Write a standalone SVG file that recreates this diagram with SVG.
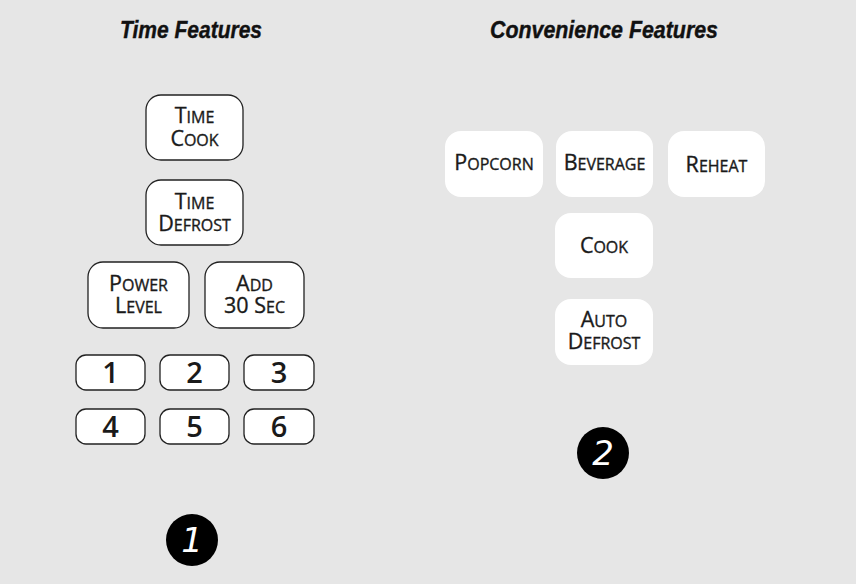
<svg xmlns="http://www.w3.org/2000/svg" width="856" height="584" viewBox="0 0 856 584">
<style>
.title{font-family:"Liberation Sans",Arial,sans-serif;font-weight:bold;font-style:italic;font-size:24px;fill:#111;stroke:#111;stroke-width:0.4}
.btn{fill:#fff;stroke:#222;stroke-width:1.3}
.cbtn{fill:#fff;stroke:none}
.lbl{font-family:"Open Sans","Noto Sans",sans-serif;font-size:16px;fill:#1a1a1a;stroke:#1a1a1a;stroke-width:0.35;text-anchor:middle}
.lbl .b{font-size:21.5px}
.num{font-family:"Open Sans","Noto Sans",sans-serif;font-size:29px;font-weight:600;fill:#1a1a1a;text-anchor:middle}
.badge{fill:#000}
.bnum{font-family:"DejaVu Sans",sans-serif;font-style:italic;font-size:34px;fill:#fff;text-anchor:middle}
</style>
<rect width="856" height="584" fill="#e6e6e6"/>
<text class="title" x="120" y="38" textLength="142" lengthAdjust="spacingAndGlyphs">Time Features</text>
<text class="title" x="490" y="38" textLength="228" lengthAdjust="spacingAndGlyphs">Convenience Features</text>

<g id="time-cook"><rect class="btn" x="146" y="95" width="97" height="65" rx="15"/>
<text class="lbl" x="194.5" y="123"><tspan class="b">T</tspan>IME</text>
<text class="lbl" x="194.5" y="146"><tspan class="b">C</tspan>OOK</text></g>
<g id="time-defrost"><rect class="btn" x="146" y="180" width="97" height="65" rx="15"/>
<text class="lbl" x="194.5" y="209"><tspan class="b">T</tspan>IME</text>
<text class="lbl" x="194.5" y="231"><tspan class="b">D</tspan>EFROST</text></g>
<g id="power-level"><rect class="btn" x="88" y="262" width="101" height="66" rx="15"/>
<text class="lbl" x="138.5" y="291"><tspan class="b">P</tspan>OWER</text>
<text class="lbl" x="138.5" y="313"><tspan class="b">L</tspan>EVEL</text></g>
<g id="add-30-sec"><rect class="btn" x="205" y="262" width="99" height="66" rx="15"/>
<text class="lbl" x="254.5" y="291"><tspan class="b">A</tspan>DD</text>
<text class="lbl" x="254.5" y="313"><tspan class="b">30 S</tspan>EC</text></g>

<g id="key-1"><rect class="btn" x="76" y="355" width="69" height="35" rx="10"/><text class="num" x="110.5" y="383">1</text></g>
<g id="key-2"><rect class="btn" x="160" y="355" width="69" height="35" rx="10"/><text class="num" x="194.5" y="383">2</text></g>
<g id="key-3"><rect class="btn" x="244" y="355" width="70" height="35" rx="10"/><text class="num" x="279" y="383">3</text></g>
<g id="key-4"><rect class="btn" x="76" y="409" width="69" height="35" rx="10"/><text class="num" x="110.5" y="437">4</text></g>
<g id="key-5"><rect class="btn" x="160" y="409" width="69" height="35" rx="10"/><text class="num" x="194.5" y="437">5</text></g>
<g id="key-6"><rect class="btn" x="244" y="409" width="70" height="35" rx="10"/><text class="num" x="279" y="437">6</text></g>

<g id="popcorn"><rect class="cbtn" x="445" y="131" width="98" height="66" rx="16"/>
<text class="lbl" x="494" y="170"><tspan class="b">P</tspan>OPCORN</text></g>
<g id="beverage"><rect class="cbtn" x="556" y="131" width="97" height="66" rx="16"/>
<text class="lbl" x="604.5" y="170"><tspan class="b">B</tspan>EVERAGE</text></g>
<g id="reheat"><rect class="cbtn" x="668" y="131" width="97" height="66" rx="16"/>
<text class="lbl" x="716.5" y="172"><tspan class="b">R</tspan>EHEAT</text></g>
<g id="cook"><rect class="cbtn" x="555" y="213" width="98" height="65" rx="16"/>
<text class="lbl" x="604" y="253"><tspan class="b">C</tspan>OOK</text></g>
<g id="auto-defrost"><rect class="cbtn" x="555" y="299" width="98" height="66" rx="16"/>
<text class="lbl" x="604" y="327"><tspan class="b">A</tspan>UTO</text>
<text class="lbl" x="604" y="349"><tspan class="b">D</tspan>EFROST</text></g>

<g id="badge-1"><circle class="badge" cx="192" cy="540" r="26"/><text class="bnum" x="192" y="552">1</text></g>
<g id="badge-2"><circle class="badge" cx="603" cy="453" r="26"/><text class="bnum" x="603" y="465">2</text></g>
</svg>
